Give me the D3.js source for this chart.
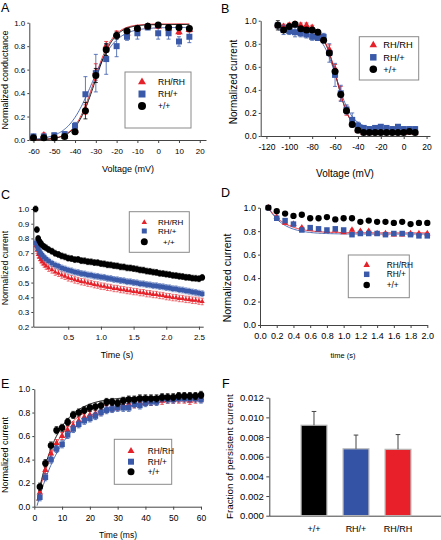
<!DOCTYPE html>
<html><head><meta charset="utf-8">
<script src="https://cdn.jsdelivr.net/npm/d3@7"></script>
<style>
body{margin:0;background:#fff}
svg{display:block;font-family:"Liberation Sans",Arial,Helvetica,sans-serif}
</style>
</head><body>
<svg id="c" width="441" height="540"></svg>
<script>
// ---------- shared ----------
const seriesNames = ["RH/RH", "RH/+", "+/+"];
const seriesColors = ["#e5212a", "#3a5aa9", "#000000"];
const seriesSymbols = [d3.symbolTriangle, d3.symbolSquare, d3.symbolCircle];

// ---------- Panel A: conductance-voltage ----------
const voltA = [-60,-55,-50,-45,-40,-35,-30,-25,-20,-15,-10,-5,0,5,10,15];
const gA_RHRH = [0.02,0.04,0.02,0.03,0.08,0.26,0.58,0.80,0.90,0.91,0.95,0.97,0.97,0.95,0.92,0.94];
const gA_het  = [0.03,0.03,0.04,0.05,0.12,0.39,0.57,0.69,0.80,0.88,0.91,0.96,0.91,0.91,0.84,0.88];
const gA_WT   = [0.02,0.02,0.02,0.03,0.07,0.25,0.55,0.77,0.89,0.93,0.95,0.97,0.98,0.96,0.96,0.95];
const eA_RHRH = [0.01,0.02,0.01,0.01,0.02,0.04,0.07,0.04,0.03,0.03,0.02,0.02,0.02,0.02,0.02,0.02];
const eA_het  = [0.02,0.02,0.02,0.02,0.03,0.15,0.16,0.13,0.09,0.03,0.05,0.02,0.05,0.05,0.04,0.05];
const eA_WT   = [0.01,0.01,0.01,0.01,0.02,0.07,0.06,0.05,0.03,0.02,0.02,0.02,0.02,0.02,0.02,0.02];
const fitA_vhalf = [-31, -32, -30.5];
const fitA_slope = [4.6, 5.8, 4.6];
const fitA_max   = [0.99, 0.96, 0.985];
const ticksA_x = [-60,-50,-40,-30,-20,-10,0,10,20];
const ticksA_y = [0,0.2,0.4,0.6,0.8,1.0];

// ---------- Panel B: steady-state inactivation ----------
const voltB = [-110,-105,-100,-95,-90,-85,-80,-75,-70,-65,-60,-55,-50,-45,-40,-35,-30,-25,-20,-15,-10,-5,0,5,10];
const iB_RHRH = [0.96,0.95,0.96,0.97,0.96,0.96,0.94,0.90,0.84,0.75,0.58,0.37,0.22,0.11,0.05,0.03,0.03,0.03,0.03,0.03,0.03,0.03,0.03,0.03,0.03];
const iB_het  = [0.96,0.92,0.91,0.90,0.89,0.88,0.86,0.85,0.86,0.72,0.53,0.37,0.23,0.14,0.09,0.07,0.06,0.07,0.08,0.07,0.06,0.08,0.06,0.06,0.06];
const iB_WT   = [0.96,0.92,0.95,0.97,0.93,0.92,0.92,0.90,0.83,0.72,0.56,0.36,0.22,0.10,0.05,0.03,0.03,0.03,0.03,0.03,0.03,0.03,0.03,0.04,0.03];
const eB_RHRH = [0.02,0.02,0.02,0.02,0.02,0.02,0.02,0.02,0.02,0.04,0.04,0.06,0.04,0.02,0.02,0.01,0.01,0.01,0.01,0.01,0.01,0.01,0.01,0.01,0.01];
const eB_het  = [0.02,0.04,0.03,0.04,0.03,0.03,0.03,0.02,0.03,0.08,0.10,0.07,0.04,0.06,0.03,0.02,0.02,0.02,0.02,0.02,0.02,0.02,0.02,0.02,0.02];
const eB_WT   = [0.04,0.02,0.02,0.02,0.02,0.02,0.02,0.02,0.02,0.02,0.02,0.02,0.02,0.02,0.01,0.01,0.01,0.01,0.01,0.01,0.01,0.01,0.01,0.01,0.01];
const fitB_vhalf  = [-58.5, -58.5, -58.5];
const fitB_slope  = [6.0, 6.8, 6.0];
const fitB_top    = [0.96, 0.92, 0.95];
const fitB_bottom = [0.03, 0.065, 0.03];
const ticksB_x = [-120,-100,-80,-60,-40,-20,0,20];
const ticksB_y = [0,0.2,0.4,0.6,0.8,1.0];

// ---------- Panel C: current decay (s) ----------
const tC = [0.00,0.02,0.04,0.06,0.08,0.10,0.13,0.16,0.20,0.25,0.30,0.35,0.40,0.45,0.50,0.55,0.60,0.65,0.70,0.75,0.80,0.85,0.90,0.95,1.00,1.05,1.10,1.15,1.20,1.25,1.30,1.35,1.40,1.45,1.50,1.55,1.60,1.65,1.70,1.75,1.80,1.85,1.90,1.95,2.00,2.05,2.10,2.15,2.20,2.25,2.30,2.35,2.40,2.45,2.50,2.55];
const iC_RHRH = [0.75,0.72,0.69,0.672,0.655,0.641,0.626,0.612,0.598,0.586,0.571,0.563,0.551,0.543,0.532,0.527,0.518,0.514,0.506,0.503,0.496,0.493,0.486,0.483,0.476,0.474,0.468,0.466,0.460,0.459,0.453,0.451,0.446,0.444,0.439,0.438,0.432,0.431,0.425,0.424,0.419,0.418,0.413,0.411,0.405,0.403,0.398,0.397,0.392,0.391,0.386,0.385,0.380,0.379,0.374,0.371];
const iC_het  = [0.77,0.75,0.73,0.712,0.697,0.686,0.671,0.659,0.646,0.631,0.619,0.611,0.599,0.592,0.584,0.579,0.571,0.568,0.561,0.558,0.552,0.550,0.544,0.542,0.537,0.535,0.529,0.527,0.521,0.519,0.514,0.512,0.506,0.505,0.500,0.498,0.492,0.491,0.486,0.484,0.479,0.478,0.473,0.471,0.466,0.464,0.458,0.457,0.451,0.449,0.444,0.441,0.436,0.433,0.428,0.424];
const iC_WT   = [1.00,0.86,0.80,0.78,0.766,0.755,0.744,0.736,0.724,0.713,0.699,0.691,0.681,0.675,0.666,0.663,0.656,0.657,0.649,0.648,0.642,0.641,0.636,0.635,0.629,0.627,0.621,0.620,0.615,0.613,0.607,0.606,0.600,0.599,0.595,0.592,0.586,0.584,0.578,0.576,0.571,0.569,0.563,0.561,0.557,0.554,0.549,0.547,0.543,0.541,0.536,0.535,0.530,0.529,0.526,0.535];
const semC = [0.022, 0.02, 0.02];
const ticksC_x = [0.5,1.0,1.5,2.0,2.5];
const ticksC_y = [0.2,0.3,0.4,0.5,0.6,0.7,0.8,0.9,1.0];

// ---------- Panel D: current vs time (s) ----------
const tD = [0.1,0.2,0.3,0.4,0.5,0.6,0.7,0.8,0.9,1.0,1.1,1.2,1.3,1.4,1.5,1.6,1.7,1.8,1.9,2.0];
const iD_RHRH = [1.00,0.92,0.87,0.86,0.83,0.82,0.81,0.80,0.81,0.79,0.81,0.80,0.80,0.78,0.78,0.77,0.77,0.78,0.78,0.78];
const iD_het  = [1.00,0.91,0.89,0.86,0.81,0.83,0.82,0.81,0.82,0.81,0.77,0.78,0.78,0.78,0.77,0.78,0.78,0.77,0.76,0.76];
const iD_WT   = [1.00,0.97,0.95,0.93,0.94,0.91,0.91,0.92,0.90,0.91,0.91,0.88,0.89,0.88,0.88,0.87,0.88,0.86,0.87,0.87];
const semD = [0.01, 0.01, 0.01];
const fitD_plateau = [0.785, 0.775];
const fitD_tau = [0.2, 0.18];
const ticksD_x = [0,0.2,0.4,0.6,0.8,1.0,1.2,1.4,1.6,1.8,2.0];
const ticksD_y = [0,0.2,0.4,0.6,0.8,1.0];

// ---------- Panel E: recovery (ms) ----------
const tE = [2,4,6,8,10,12,14,16,18,20,22,24,26,28,30,32,34,36,38,40,42,44,46,48,50,52,54,56,58,60];
const iE_RHRH = [0.12,0.31,0.45,0.54,0.60,0.65,0.69,0.73,0.76,0.78,0.79,0.81,0.83,0.84,0.85,0.86,0.87,0.87,0.88,0.89,0.89,0.90,0.90,0.91,0.91,0.91,0.91,0.90,0.91,0.92];
const iE_het  = [0.08,0.25,0.40,0.49,0.53,0.61,0.66,0.70,0.73,0.75,0.77,0.80,0.82,0.83,0.84,0.84,0.84,0.87,0.86,0.88,0.89,0.89,0.92,0.91,0.91,0.92,0.92,0.92,0.92,0.91];
const iE_WT   = [0.17,0.37,0.52,0.65,0.67,0.72,0.78,0.80,0.82,0.84,0.85,0.86,0.89,0.89,0.88,0.90,0.91,0.91,0.92,0.92,0.92,0.92,0.93,0.93,0.93,0.94,0.94,0.94,0.94,0.95];
const semE = [0.03, 0.03, 0.03];
const fitE_max = [0.915, 0.92, 0.935];
const fitE_tau = [8.5, 10.5, 7.2];
const fitE_t0  = [0.5, 0.9, 0.6];
const ticksE_x = [0,10,20,30,40,50,60];
const ticksE_y = [0,0.2,0.4,0.6,0.8,1.0];

// ---------- Panel F: persistent current ----------
const genotypesF = ["+/+", "RH/+", "RH/RH"];
const persistF = [0.0092, 0.0068, 0.00675];
const persistErrF = [0.0014, 0.0014, 0.0015];
const colorsF = ["#000000", "#3453a5", "#e8202a"];
const ticksF_y = [0,0.002,0.004,0.006,0.008,0.010,0.012];

// ================= drawing =================
const svg = d3.select("#c");
const fmt1 = d3.format(".1f");
const fmtInt = d => String(d);

function styleAxis(g, fs) {
  g.selectAll(".domain").attr("stroke", "#444").attr("stroke-width", 1);
  g.selectAll(".tick line").attr("stroke", "#444");
  g.selectAll(".tick text").attr("fill", "#000").attr("font-size", fs)
    .attr("font-family", "'Liberation Sans', Arial, sans-serif");
}

function makePanel(c) {
  const x = d3.scaleLinear().domain(c.xDomain).range(c.xRange);
  const y = d3.scaleLinear().domain(c.yDomain).range(c.yRange);
  const g = svg.append("g");
  const gx = g.append("g").attr("transform", `translate(0,${c.yRange[0]})`)
    .call(d3.axisBottom(x).tickValues(c.xTicks).tickFormat(c.xFmt).tickSize(3).tickSizeOuter(0).tickPadding(c.xPad || 5));
  styleAxis(gx, c.tickFs);
  const gy = g.append("g").attr("transform", `translate(${c.xRange[0]},0)`)
    .call(d3.axisLeft(y).tickValues(c.yTicks).tickFormat(c.yFmt).tickSize(2).tickSizeOuter(0).tickPadding(c.yPad || 2));
  styleAxis(gy, c.tickFs);
  g.append("text").attr("x", c.letter[0]).attr("y", c.letter[1]).attr("font-size", 12.5).text(c.name);
  g.append("text").attr("transform", `translate(${c.yTitle[0]},${c.yTitle[1]}) rotate(-90)`)
    .attr("text-anchor", "middle").attr("font-size", c.yTitleFs).text(c.yLabel);
  g.append("text").attr("x", c.xTitle[0]).attr("y", c.xTitle[1])
    .attr("text-anchor", "middle").attr("font-size", c.xTitleFs).text(c.xLabel);
  return { x, y, g };
}

function symSize(kind, d) {
  if (kind === 0) return Math.sqrt(3) / 4 * d * d;
  if (kind === 1) return d * d;
  return Math.PI * d * d / 4;
}

function drawSeries(p, xs, ys, errs, si, dia, capW, ew) {
  const col = seriesColors[si];
  const g = p.g.append("g");
  if (errs) {
    const eg = g.append("g").attr("stroke", col).attr("stroke-width", ew || 0.8);
    xs.forEach((xv, i) => {
      const e = Array.isArray(errs) ? errs[i] : errs;
      const px = p.x(xv);
      const y1 = p.y(ys[i] - e), y2 = p.y(ys[i] + e);
      eg.append("line").attr("x1", px).attr("x2", px).attr("y1", y1).attr("y2", y2);
      eg.append("line").attr("x1", px - capW).attr("x2", px + capW).attr("y1", y1).attr("y2", y1);
      eg.append("line").attr("x1", px - capW).attr("x2", px + capW).attr("y1", y2).attr("y2", y2);
    });
  }
  g.append("g").selectAll("path").data(xs.map((xv, i) => [xv, ys[i]])).join("path")
    .attr("transform", d => `translate(${p.x(d[0])},${p.y(d[1])})`)
    .attr("d", d3.symbol(seriesSymbols[si], symSize(si, dia[si])))
    .attr("fill", col);
}

function drawFit(p, pts, si, w) {
  p.g.append("path").datum(pts)
    .attr("d", d3.line().x(d => p.x(d[0])).y(d => p.y(d[1])))
    .attr("fill", "none").attr("stroke", seriesColors[si]).attr("stroke-width", w || 0.9);
}

function legend(box, rows, mx, tx, fs, dia, tdx) {
  svg.append("rect").attr("x", box[0]).attr("y", box[1])
    .attr("width", box[2] - box[0]).attr("height", box[3] - box[1])
    .attr("fill", "#fff").attr("stroke", "#8a8a8a").attr("stroke-width", 1);
  seriesNames.forEach((n, i) => {
    svg.append("path").attr("transform", `translate(${mx},${rows[i]})`)
      .attr("d", d3.symbol(seriesSymbols[i], symSize(i, dia[i]))).attr("fill", seriesColors[i]);
    svg.append("text").attr("x", tx + (tdx ? tdx[i] : 0)).attr("y", rows[i]).attr("dy", "0.35em")
      .attr("font-size", fs).text(n);
  });
}

function sample(a, b, n) { return d3.range(n + 1).map(i => a + (b - a) * i / n); }

// ---------- A ----------
{
  const p = makePanel({
    name: "A", letter: [1, 12],
    xDomain: [-62, 23], xRange: [29.3, 206], yDomain: [0, 1], yRange: [140, 22.7],
    xTicks: ticksA_x, yTicks: ticksA_y, xFmt: fmtInt, yFmt: fmt1, tickFs: 8,
    yLabel: "Normalized conductance", yTitle: [8, 80], yTitleFs: 9,
    xLabel: "Voltage (mV)", xTitle: [128, 171.5], xTitleFs: 9
  });
  const vs = sample(-60, 15, 150);
  [0, 1, 2].forEach(si => drawFit(p, vs.map(v => [v, fitA_max[si] / (1 + Math.exp((fitA_vhalf[si] - v) / fitA_slope[si]))]), si));
  const dia = [7.5, 6, 7];
  drawSeries(p, voltA, gA_RHRH, eA_RHRH, 0, dia, 2);
  drawSeries(p, voltA, gA_het, eA_het, 1, dia, 2);
  drawSeries(p, voltA, gA_WT, eA_WT, 2, dia, 2);
  legend([125, 72, 191, 128], [82, 94, 106], 142, 158, 8.5, [8, 7, 8]);
}

// ---------- B ----------
{
  const p = makePanel({
    name: "B", letter: [221, 12.5],
    xDomain: [-125, 23], xRange: [260.7, 430], yDomain: [0, 1], yRange: [136, 20.7],
    xTicks: ticksB_x, yTicks: ticksB_y, xFmt: fmtInt, yFmt: fmt1, tickFs: 8.5,
    yLabel: "Normalized current", yTitle: [237, 82], yTitleFs: 10,
    xLabel: "Voltage (mV)", xTitle: [345, 177], xTitleFs: 10
  });
  const vs = sample(-110, 10, 160);
  [1, 2, 0].forEach(si => drawFit(p, vs.map(v => [v, fitB_bottom[si] + (fitB_top[si] - fitB_bottom[si]) / (1 + Math.exp((v - fitB_vhalf[si]) / fitB_slope[si]))]), si));
  const dia = [7, 6, 7];
  drawSeries(p, voltB, iB_RHRH, eB_RHRH, 0, dia, 2);
  drawSeries(p, voltB, iB_het, eB_het, 1, dia, 2);
  drawSeries(p, voltB, iB_WT, eB_WT, 2, dia, 2);
  legend([359.3, 36.7, 418.7, 80], [45, 57.3, 69.3], 373.3, 383.3, 9.3, [7.5, 6.5, 7.5]);
}

// ---------- C ----------
{
  const p = makePanel({
    name: "C", letter: [1, 199],
    xDomain: [-0.035, 2.565], xRange: [33.3, 203.2], yDomain: [0.2, 1.0], yRange: [326.7, 209],
    xTicks: ticksC_x, yTicks: ticksC_y, xFmt: fmt1, yFmt: fmt1, tickFs: 8,
    yLabel: "Normalized current", yTitle: [8, 268], yTitleFs: 8.8,
    xLabel: "Time (s)", xTitle: [117, 357.5], xTitleFs: 9
  });
  const dia = [5, 4.5, 5.8];
  drawSeries(p, tC, iC_RHRH, semC[0], 0, dia, 1.5, 0.6);
  drawSeries(p, tC, iC_het, semC[1], 1, dia, 1.5, 0.6);
  drawSeries(p, tC, iC_WT, semC[2], 2, dia, 1.5, 0.6);
  legend([129.3, 211.7, 189.3, 252.3], [222.3, 231, 241.7], 144.3, 158, 8, [5.5, 5, 7], [0, 0, 5]);
}

// ---------- D ----------
{
  const p = makePanel({
    name: "D", letter: [221, 197],
    xDomain: [0, 2], xRange: [260, 427.3], yDomain: [0, 1], yRange: [325, 207.7],
    xTicks: ticksD_x, yTicks: ticksD_y, xFmt: fmt1, yFmt: fmt1, tickFs: 9,
    yLabel: "Normalized current", yTitle: [231, 278], yTitleFs: 10.5,
    xLabel: "time (s)", xTitle: [343, 357.5], xTitleFs: 7.5
  });
  const ts = sample(0.1, 2.0, 120);
  [1, 0].forEach(si => drawFit(p, ts.map(t => [t, fitD_plateau[si] + (1 - fitD_plateau[si]) * Math.exp(-(t - 0.1) / fitD_tau[si])]), si));
  const dia = [6.5, 5.5, 6.3];
  drawSeries(p, tD, iD_RHRH, semD[0], 0, dia, 1.5);
  drawSeries(p, tD, iD_het, semD[1], 1, dia, 1.5);
  drawSeries(p, tD, iD_WT, semD[2], 2, dia, 1.5);
  legend([348.3, 255, 409.3, 297.7], [265, 274.3, 285], 366.7, 386.7, 8.3, [6.5, 5.5, 6.5]);
}

// ---------- E ----------
{
  const p = makePanel({
    name: "E", letter: [1, 388],
    xDomain: [0, 60], xRange: [34.3, 201], yDomain: [0, 1], yRange: [506.7, 389],
    xTicks: ticksE_x, yTicks: ticksE_y, xFmt: fmtInt, yFmt: fmt1, tickFs: 8.5,
    yLabel: "Normalized current", yTitle: [8, 455], yTitleFs: 9,
    xLabel: "Time (ms)", xTitle: [118, 537.5], xTitleFs: 8.5
  });
  const ts = sample(1, 60, 180);
  [0, 1, 2].forEach(si => drawFit(p, ts.map(t => [t, fitE_max[si] * (1 - Math.exp(-(t - fitE_t0[si]) / fitE_tau[si]))]), si));
  const dia = [6.5, 5.5, 6.5];
  drawSeries(p, tE, iE_RHRH, semE[0], 0, dia, 1.8);
  drawSeries(p, tE, iE_het, semE[1], 1, dia, 1.8);
  drawSeries(p, tE, iE_WT, semE[2], 2, dia, 1.8);
  legend([114.3, 439.3, 171.7, 484.3], [451, 461.7, 471.7], 131, 147.7, 8.3, [7, 6, 7]);
}

// ---------- F ----------
{
  const x = d3.scaleBand().domain(genotypesF).range([270, 442]).paddingInner(0.385).paddingOuter(0.74);
  const y = d3.scaleLinear().domain([0, 0.012]).range([515.7, 397.7]);
  const g = svg.append("g");
  const gx = g.append("g").attr("transform", "translate(0,515.7)")
    .call(d3.axisBottom(x).tickSize(0).tickSizeOuter(0).tickPadding(9.5));
  styleAxis(gx, 9);
  gx.select(".domain").attr("d", "M269.3,0.5H441");
  const gy = g.append("g").attr("transform", "translate(269.3,0)")
    .call(d3.axisLeft(y).tickValues(ticksF_y).tickFormat(d3.format(".3f")).tickSize(3).tickSizeOuter(0).tickPadding(2.5));
  styleAxis(gy, 9.5);
  g.selectAll("rect.bar").data(genotypesF).join("rect").attr("class", "bar")
    .attr("x", d => x(d)).attr("width", x.bandwidth())
    .attr("y", (d, i) => y(persistF[i])).attr("height", (d, i) => y(0) - y(persistF[i]))
    .attr("fill", (d, i) => colorsF[i]).attr("stroke", "#b8b8b8").attr("stroke-width", 1.2);
  genotypesF.forEach((d, i) => {
    const cx = x(d) + x.bandwidth() / 2;
    const top = y(persistF[i] + persistErrF[i]);
    g.append("line").attr("x1", cx).attr("x2", cx).attr("y1", y(persistF[i])).attr("y2", top)
      .attr("stroke", "#444").attr("stroke-width", 1);
    g.append("line").attr("x1", cx - 2.3).attr("x2", cx + 2.3).attr("y1", top).attr("y2", top)
      .attr("stroke", "#444").attr("stroke-width", 1);
  });
  g.append("text").attr("x", 222).attr("y", 388).attr("font-size", 12.5).text("F");
  g.append("text").attr("transform", "translate(233,456.7) rotate(-90)")
    .attr("text-anchor", "middle").attr("font-size", 9.8).text("Fraction of persistent current");
}
</script>
</body></html>
